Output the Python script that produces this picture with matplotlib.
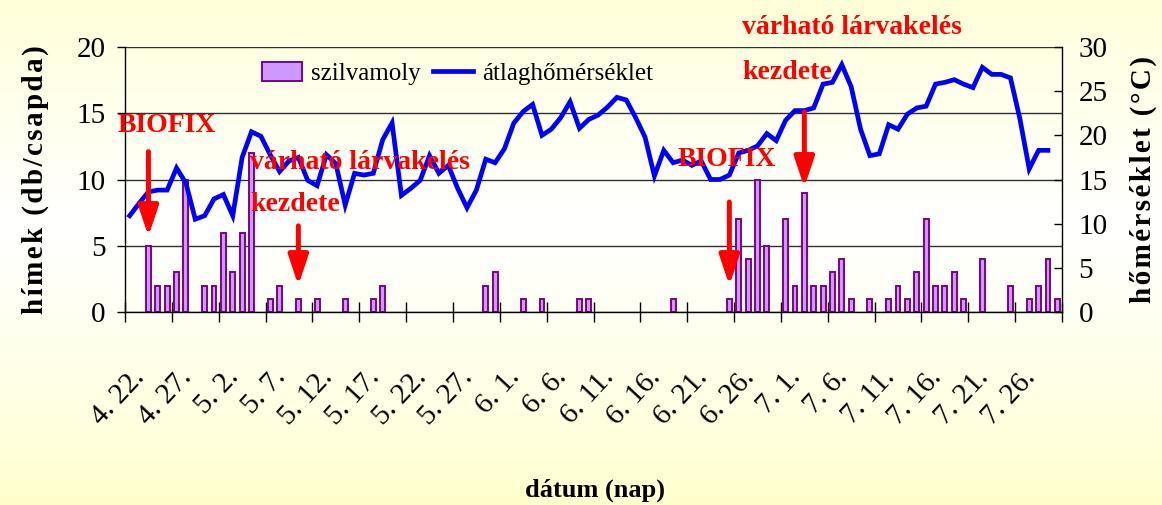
import numpy as np
import matplotlib
matplotlib.use("Agg")
import matplotlib.pyplot as plt
from matplotlib.patches import Patch
from matplotlib.lines import Line2D


SERIF = ["Liberation Serif", "DejaVu Serif"]

# egy kategória = egy nap, 4.22-től 7.30-ig (100 nap)
tick_labels = ["4. 22.", "4. 27.", "5. 2.", "5. 7.", "5. 12.", "5. 17.", "5. 22.",
	"5. 27.", "6. 1.", "6. 6.", "6. 11.", "6. 16.", "6. 21.", "6. 26.",
	"7. 1.", "7. 6.", "7. 11.", "7. 16.", "7. 21.", "7. 26."]

# szilvamoly fogás (db/csapda)
counts = [
	0, 0, 5, 2, 2, 3, 10, 0, 2, 2,
	6, 3, 6, 12, 0, 1, 2, 0, 1, 0,
	1, 0, 0, 1, 0, 0, 1, 2, 0, 0,
	0, 0, 0, 0, 0, 0, 0, 0, 2, 3,
	0, 0, 1, 0, 1, 0, 0, 0, 1, 1,
	0, 0, 0, 0, 0, 0, 0, 0, 1, 0,
	0, 0, 0, 0, 1, 7, 4, 10, 5, 0,
	7, 2, 9, 2, 2, 3, 4, 1, 0, 1,
	0, 1, 2, 1, 3, 7, 2, 2, 3, 1,
	0, 4, 0, 0, 2, 0, 1, 2, 4, 1,
]

# átlaghőmérséklet (°C), az utolsó nap hiányzik
temps = [
	10.9, 12.3, 13.6, 13.8, 13.8, 16.3, 14.6, 10.5, 10.9, 12.8,
	13.3, 10.9, 17.5, 20.4, 19.9, 17.8, 15.9, 17.1, 17.5, 14.9,
	14.3, 17.8, 16.8, 12.1, 15.7, 15.5, 15.7, 19.5, 21.4, 13.2,
	14.0, 14.9, 17.7, 15.7, 16.6, 14.0, 11.8, 13.8, 17.3, 16.9,
	18.5, 21.4, 22.7, 23.5, 20.0, 20.7, 22.0, 23.8, 20.8, 21.8,
	22.3, 23.2, 24.3, 24.0, 22.0, 19.8, 15.4, 18.3, 16.9, 17.2,
	16.6, 17.1, 15.0, 15.0, 15.5, 18.0, 18.3, 18.8, 20.2, 19.4,
	21.7, 22.8, 22.8, 23.1, 25.8, 26.0, 28.0, 25.5, 20.7, 17.7,
	17.9, 21.2, 20.7, 22.4, 23.1, 23.3, 25.8, 26.0, 26.3, 25.8,
	25.4, 27.7, 26.9, 26.9, 26.5, 21.9, 16.2, 18.3, 18.3, np.nan,
]

# nyilak: (nap, nyíl teteje, nyíl hegye) a bal tengely egységeiben
arrows = [(2, 12.1, 5.7), (64, 8.3, 2.0), (18, 6.5, 2.0), (72, 15.1, 9.4)]

BAR_FACE = "#CC99FF"
BAR_EDGE = "#800080"
LINE_COLOR = "#0000FF"
RED = "#FF0000"


def spaced(s):
	# kicsit ritkított betűköz, mint az eredetin
	return "\u200a".join(s)


def main():
	plt.rcParams["font.family"] = SERIF

	fig = plt.figure(figsize=(11.62, 5.05), dpi=100)

	# háttér: halványsárga - fehér - halványsárga színátmenet
	bg = fig.add_axes([0, 0, 1, 1], zorder=-10)
	t = np.linspace(0, 1, 256)
	w = np.clip(1 - np.abs(t - 0.45) / 0.55, 0, 1) ** 0.8
	col = np.zeros((256, 1, 3))
	col[:, 0, 0] = 1.0
	col[:, 0, 1] = 1.0
	col[:, 0, 2] = 0.80 + 0.20 * w
	bg.imshow(col, aspect="auto", extent=[0, 1, 0, 1])
	bg.axis("off")

	ax = fig.add_axes([125 / 1162, 1 - 312 / 505, (1062 - 125) / 1162, (312 - 47) / 505])
	ax.patch.set_visible(False)
	x = np.arange(len(counts))
	c = np.array(counts)
	nz = c > 0  # a nulla értékű oszlopok nem látszanak
	ax.bar(x[nz], c[nz], width=0.52, color=BAR_FACE, edgecolor=BAR_EDGE, linewidth=1.4,
		zorder=2)
	ax.set_xlim(-0.5, len(counts) - 0.5)
	ax.set_ylim(0, 20)
	ax.set_yticks([0, 5, 10, 15, 20])
	ax.yaxis.grid(True, color="#303030", lw=1.0)
	ax.set_axisbelow(True)

	# osztásjelek az 5 napos csoportok határán, feliratok a csoportok elején
	ax.set_xticks(np.arange(-0.5, len(counts), 5))
	ax.set_xticklabels([])
	ax.set_xticks(np.arange(0, len(counts), 5) + 1.2, minor=True)
	ax.set_xticklabels(tick_labels, minor=True, rotation=47, ha="right", va="center",
		rotation_mode="anchor", fontsize=21)
	ax.tick_params(axis="x", which="major", direction="inout", length=15, width=1)
	ax.tick_params(axis="x", which="minor", length=0, pad=44)
	ax.tick_params(axis="y", direction="out", length=6, width=1, labelsize=21, pad=8)

	for s in ["top", "right"]:
		ax.spines[s].set_visible(False)
	ax.spines["left"].set_linewidth(1)
	ax.spines["bottom"].set_linewidth(1)

	ax2 = ax.twinx()
	ax2.plot(x, temps, color=LINE_COLOR, lw=3.4, solid_joinstyle="miter", zorder=3)
	ax2.set_ylim(0, 30)
	ax2.set_yticks(np.arange(0, 31, 5))
	ax2.tick_params(axis="y", direction="in", length=6, width=1, labelsize=21, pad=12)
	for s in ["top", "left", "bottom"]:
		ax2.spines[s].set_visible(False)
	ax2.spines["right"].set_linewidth(1)

	ax.set_ylabel(spaced("hímek (db/csapda)"), fontsize=21, fontweight="bold", labelpad=20)
	ax2.set_ylabel(spaced("hőmérséklet (°C)"), fontsize=21, fontweight="bold",
		labelpad=16)
	fig.text(595 / 1162, 1 - 490 / 505, "dátum (nap)", fontsize=19, fontweight="bold",
		ha="center", va="center")

	handles = [Patch(facecolor=BAR_FACE, edgecolor=BAR_EDGE, linewidth=1.4),
		Line2D([], [], color=LINE_COLOR, lw=3.4)]
	fig.legend(handles, ["szilvamoly", "átlaghőmérséklet"], loc="upper left",
		bbox_to_anchor=(262 / 1162, 1 - 62 / 505), ncol=2, frameon=False, fontsize=18,
		borderpad=0, borderaxespad=0, handlelength=1.6, handleheight=0.8,
		handletextpad=0.35, columnspacing=0.5)

	# feliratok és nyilak (a vonal fölé)
	tr = ax.transData
	txt = dict(color=RED, fontsize=20, fontweight="bold", ha="left", va="center",
		transform=tr, zorder=5)
	ax2.text(-1.25, 14.1, "BIOFIX", **txt)
	ax2.text(12.85, 11.3, "várható lárvakelés", **txt)
	ax2.text(12.85, 8.1, "kezdete", **txt)
	ax2.text(58.5, 11.5, "BIOFIX", **txt)
	ax2.text(65.35, 21.5, "várható lárvakelés", **txt)
	ax2.text(65.35, 18.1, "kezdete", **txt)

	arrow = dict(arrowstyle="-|>,head_length=0.9,head_width=0.3", color=RED, lw=3.6,
		mutation_scale=20, shrinkA=0, shrinkB=0)
	for day, top, tip in arrows:
		ax2.annotate("", xy=(day, tip), xytext=(day, top), xycoords=tr, textcoords=tr,
			arrowprops=arrow, zorder=5)

	fig.savefig("out.png", dpi=100)


if __name__ == "__main__":
	main()
